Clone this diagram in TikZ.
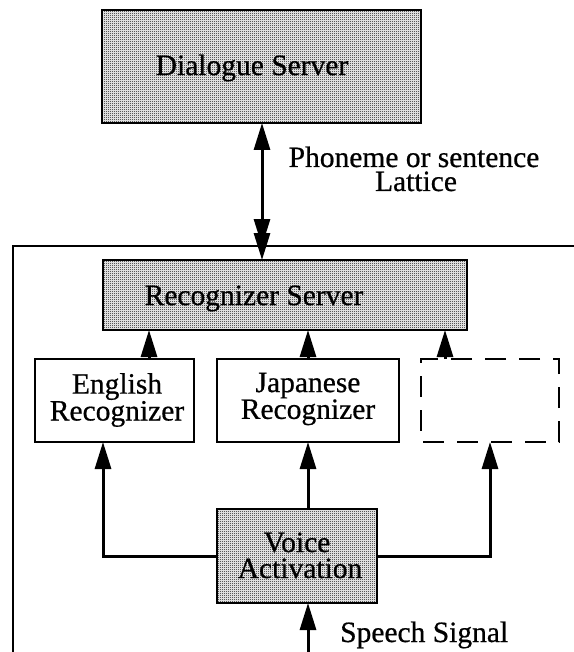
\documentclass[tikz,border=0pt]{standalone}
\usepackage{fontspec}
\setmainfont{Liberation Serif}[FakeBold=0.6]
\usetikzlibrary{arrows.meta,patterns.meta}

% fine checker stipple used for the shaded boxes
\pgfdeclarepattern{
  name=stipple,
  type=uncolored,
  bottom left={\pgfpoint{0pt}{0pt}},
  top right={\pgfpoint{2pt}{2pt}},
  tile size={\pgfpoint{2pt}{2pt}},
  code={
    \pgfpathrectangle{\pgfpoint{0pt}{0pt}}{\pgfpoint{1pt}{1pt}}
    \pgfpathrectangle{\pgfpoint{1pt}{1pt}}{\pgfpoint{1pt}{1pt}}
    \pgfusepath{fill}
  }
}

\tikzset{
  box/.style={draw, line width=2pt, inner sep=0pt, outer sep=0pt, fill=white},
  shadedbox/.style={box, pattern={stipple}, pattern color=black},
  dashbox/.style={draw, line width=2.2pt, inner sep=0pt, outer sep=0pt,
    dash pattern=on 21pt off 13pt, dash phase=-2pt},
  label text/.style={font=\fontsize{29.5}{24}\selectfont, inner sep=0pt, align=center},
  line text/.style={label text, anchor=base},
  flow/.style={line width=3pt, -{Triangle[length=27pt,width=16pt]}},
  twoway/.style={line width=3pt, {Triangle[length=27pt,width=16pt]}-{Triangle[length=27pt,width=16pt]}},
  frame/.style={line width=2.6pt}
}

\begin{document}
\begin{tikzpicture}[x=1pt, y=-1pt]
  \useasboundingbox (0,0) rectangle (573,652);

  % outer frame around the recognition subsystem
  \coordinate (frameTR) at (576,246);
  \coordinate (frameTL) at (13,246);
  \coordinate (frameBL) at (13,656);
  \draw[frame] (frameTR) -- (frameTL) -- (frameBL);

  % boxes
  \node[shadedbox, minimum width=319pt, minimum height=113pt] (ds) at (261.5,66.5) {};
  \node[shadedbox, minimum width=364pt, minimum height=70pt] (rs) at (285,295) {};
  \node[box, minimum width=159pt, minimum height=83pt] (eng) at (114.5,400.5) {};
  \node[box, minimum width=182pt, minimum height=83pt] (jap) at (308,400.5) {};
  \node[dashbox, minimum width=138pt, minimum height=83pt] (spare) at (490,400.5) {};
  \node[shadedbox, minimum width=160pt, minimum height=94pt] (va) at (297,556) {};

  % texts
  \node[line text] (dsText) at (252,75) {Dialogue Server};
  \node[line text] (rsText) at (254,305) {Recognizer Server};
  \node[label text] (engText) at (117,400) {English\\Recognizer};
  \node[label text] (japText) at (308,399) {Japanese\\Recognizer};
  \node[line text] (vaTextA) at (297,552) {Voice};
  \node[line text] (vaTextB) at (300,578) {Activation};
  \node[line text] (latTextA) at (414,167) {Phoneme or sentence};
  \node[line text] (latTextB) at (416,191) {Lattice};
  \node[label text, anchor=base west] (sigText) at (340,642) {Speech Signal};

  % lattice exchange between the dialogue server and the recognizers
  \coordinate (entry) at (262,246);
  \draw[twoway] (ds.south -| entry) -- (entry);
  \draw[flow] (entry) -- (rs.north -| entry);

  % recognizers feed the recognizer server
  \coordinate (engUp) at (149,0);
  \coordinate (japUp) at (308,0);
  \coordinate (spareUp) at (445,0);
  \draw[flow] (eng.north -| engUp) -- (rs.south -| engUp);
  \draw[flow] (jap.north -| japUp) -- (rs.south -| japUp);
  \draw[flow] (spare.north -| spareUp) -- (rs.south -| spareUp);

  % voice activation distributes the signal
  \coordinate (engIn) at (103,0);
  \draw[flow] (va.west) -| (eng.south -| engIn);
  \draw[flow] (va.north -| jap.south) -- (jap.south);
  \draw[flow] (va.east) -| (spare.south);

  % incoming speech
  \coordinate (sig) at (308,656);
  \draw[flow] (sig) -- (va.south -| sig);
\end{tikzpicture}
\end{document}
